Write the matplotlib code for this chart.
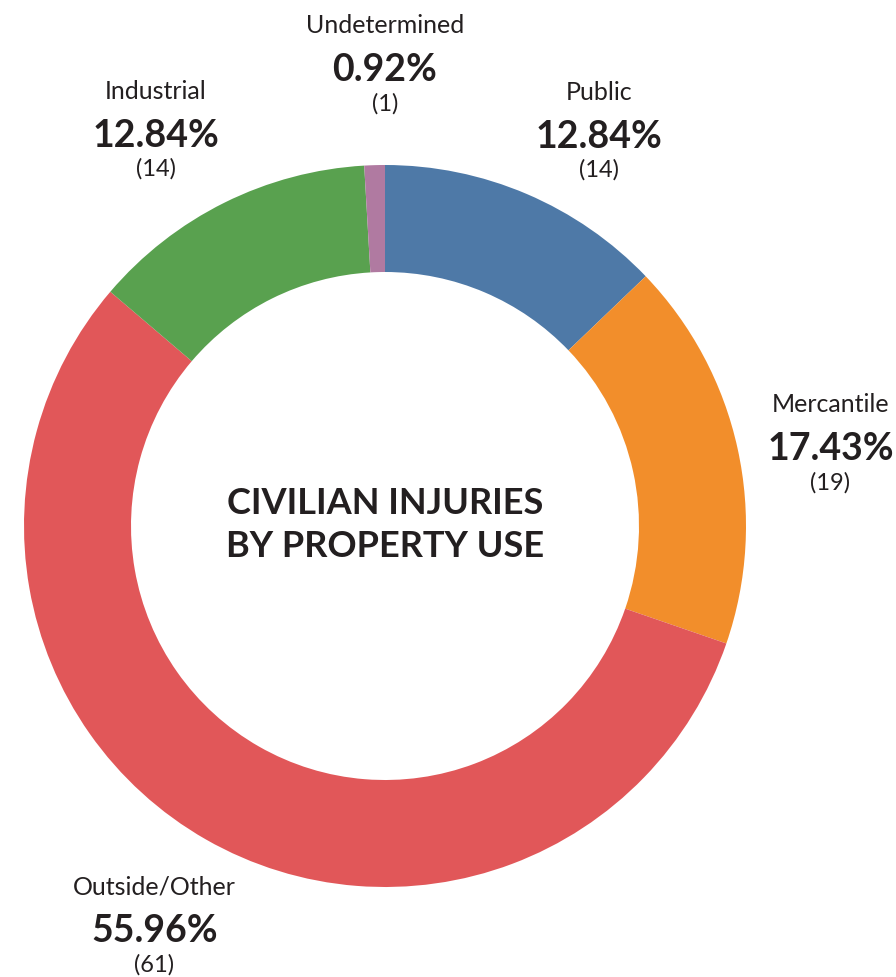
import numpy as np
import matplotlib.pyplot as plt

# Civilian injuries by property use
categories = ['Public', 'Mercantile', 'Outside/Other', 'Industrial', 'Undetermined']
counts = [14, 19, 61, 14, 1]
colors = ['#4e79a7', '#f28e2b', '#e15759', '#59a14f', '#b07aa1']

W, H = 896, 977
ink = '#231f20'
plt.rcParams['font.family'] = ['Lato', 'DejaVu Sans']

fig = plt.figure(figsize=(W / 100, H / 100), dpi=100)
ax = fig.add_axes([0, 0, 1, 1])

cx, cy = 385, H - 526
R = 361
ring = 107

wedges, _ = ax.pie(counts, colors=colors, startangle=90, counterclock=False,
                   radius=R, center=(cx, cy),
                   wedgeprops=dict(width=ring, linewidth=0))
ax.set_xlim(0, W)
ax.set_ylim(0, H)
ax.set_aspect('equal')
ax.axis('off')

# label blocks sit outside the ring along each wedge's middle angle,
# a few of them nudged sideways so they don't crowd each other
label_r = 455
nudge = {'Public': (35, -26), 'Mercantile': (1, -18), 'Outside/Other': (-5, -7),
         'Industrial': (-27, -14), 'Undetermined': (13, 4)}

total = sum(counts)
for w, name, n in zip(wedges, categories, counts):
    mid = np.deg2rad((w.theta1 + w.theta2) / 2)
    x = cx + label_r * np.cos(mid) + nudge[name][0]
    y = cy + label_r * np.sin(mid) + nudge[name][1]
    ax.text(x, y + 34, name, ha='center', va='baseline', fontsize=18, color=ink)
    ax.text(x, y - 14, f'{n / total * 100:.2f}%', ha='center', va='baseline',
            fontsize=27, fontweight='bold', color=ink)
    ax.text(x, y - 43, f'({n})', ha='center', va='baseline', fontsize=17, color=ink)

ax.text(cx, H - 514, 'CIVILIAN INJURIES', ha='center', va='baseline',
        fontsize=26, fontweight='bold', color=ink)
ax.text(cx, H - 557, 'BY PROPERTY USE', ha='center', va='baseline',
        fontsize=26, fontweight='bold', color=ink)

fig.savefig('out.png', dpi=100, facecolor='white')
